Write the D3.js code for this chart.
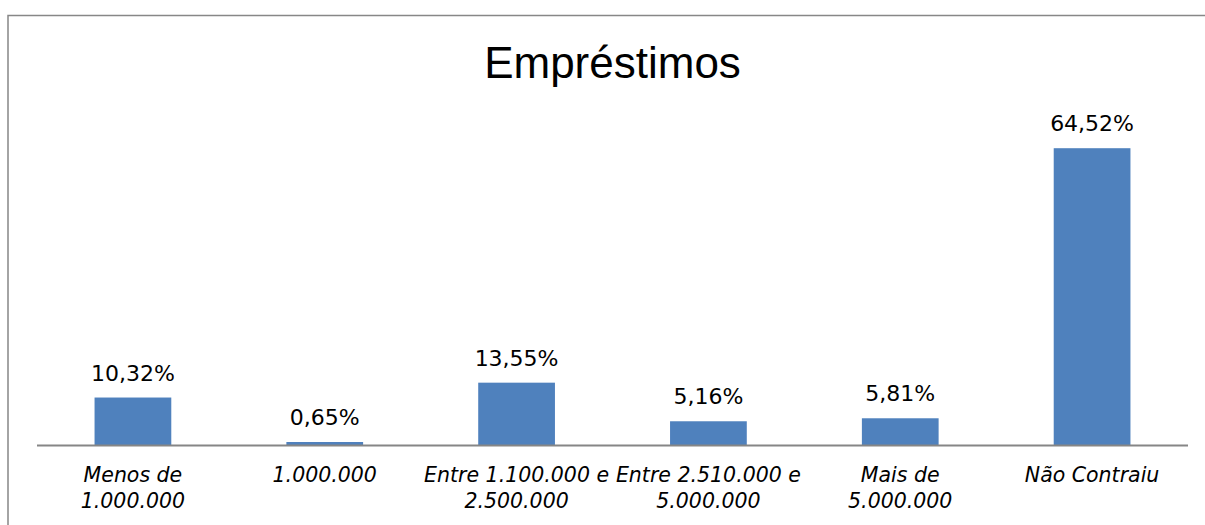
<!DOCTYPE html>
<html>
<head>
<meta charset="utf-8">
<script src="https://cdn.jsdelivr.net/npm/d3@7"></script>
<style>
	body { margin: 0; background: #fff; }
</style>
</head>
<body>
<svg></svg>
<script>
var categories = ['Menos de\n1.000.000', '1.000.000', 'Entre 1.100.000 e\n2.500.000', 'Entre 2.510.000 e\n5.000.000', 'Mais de\n5.000.000', 'Não Contraiu'];
var values = [10.32, 0.65, 13.55, 5.16, 5.81, 64.52];
var title = 'Empréstimos';

let svg = d3.select('svg').attr('width', 1205).attr('height', 525);

// chart frame (runs past the right and bottom edges)
svg.append('path')
	.attr('d', 'M8,525 V15.5 H1205')
	.attr('fill', 'none')
	.attr('stroke', '#878787')
	.attr('stroke-width', 1.5);

let x = d3.scaleBand().domain(categories).range([37, 1188]).paddingInner(0.6).paddingOuter(0.3);
let y = d3.scaleLinear().domain([0, 70]).range([445, 123]);

let fmt = (v) => v.toFixed(2).replace('.', ',') + '%';

// title
svg.append('text')
	.attr('x', (37 + 1188) / 2)
	.attr('y', 78)
	.attr('text-anchor', 'middle')
	.style('font-family', '"Liberation Sans", Arial, sans-serif')
	.style('font-size', '44px')
	.text(title);

// bars
svg.selectAll('.bar')
	.data(values)
	.enter()
	.append('rect')
	.attr('class', 'bar')
	.attr('x', (d, i) => x(categories[i]))
	.attr('y', (d) => y(d))
	.attr('width', x.bandwidth())
	.attr('height', (d) => y(0) - y(d))
	.attr('fill', '#4F81BD');

// value labels
svg.selectAll('.val')
	.data(values)
	.enter()
	.append('text')
	.attr('class', 'val')
	.attr('x', (d, i) => x(categories[i]) + x.bandwidth() / 2)
	.attr('y', (d) => y(d) - 17)
	.attr('text-anchor', 'middle')
	.style('font-family', '"DejaVu Sans", sans-serif')
	.style('font-size', '22px')
	.style('fill', '#000')
	.text(fmt);

// x axis line
svg.append('line')
	.attr('x1', 37)
	.attr('x2', 1188)
	.attr('y1', y(0) + 0.5)
	.attr('y2', y(0) + 0.5)
	.attr('stroke', '#868686')
	.attr('stroke-width', 2);

// category labels
let cats = svg.selectAll('.cat')
	.data(categories)
	.enter()
	.append('text')
	.attr('class', 'cat')
	.attr('text-anchor', 'middle')
	.style('font-family', '"DejaVu Sans", sans-serif')
	.style('font-style', 'italic')
	.style('font-size', '20.5px')
	.style('fill', '#000');

cats.selectAll('tspan')
	.data((d) => d.split('\n').map((t) => ({ t: t, c: d })))
	.enter()
	.append('tspan')
	.attr('x', (d) => x(d.c) + x.bandwidth() / 2)
	.attr('y', (d, i) => 482 + i * 26)
	.text((d) => d.t);
</script>
</body>
</html>
